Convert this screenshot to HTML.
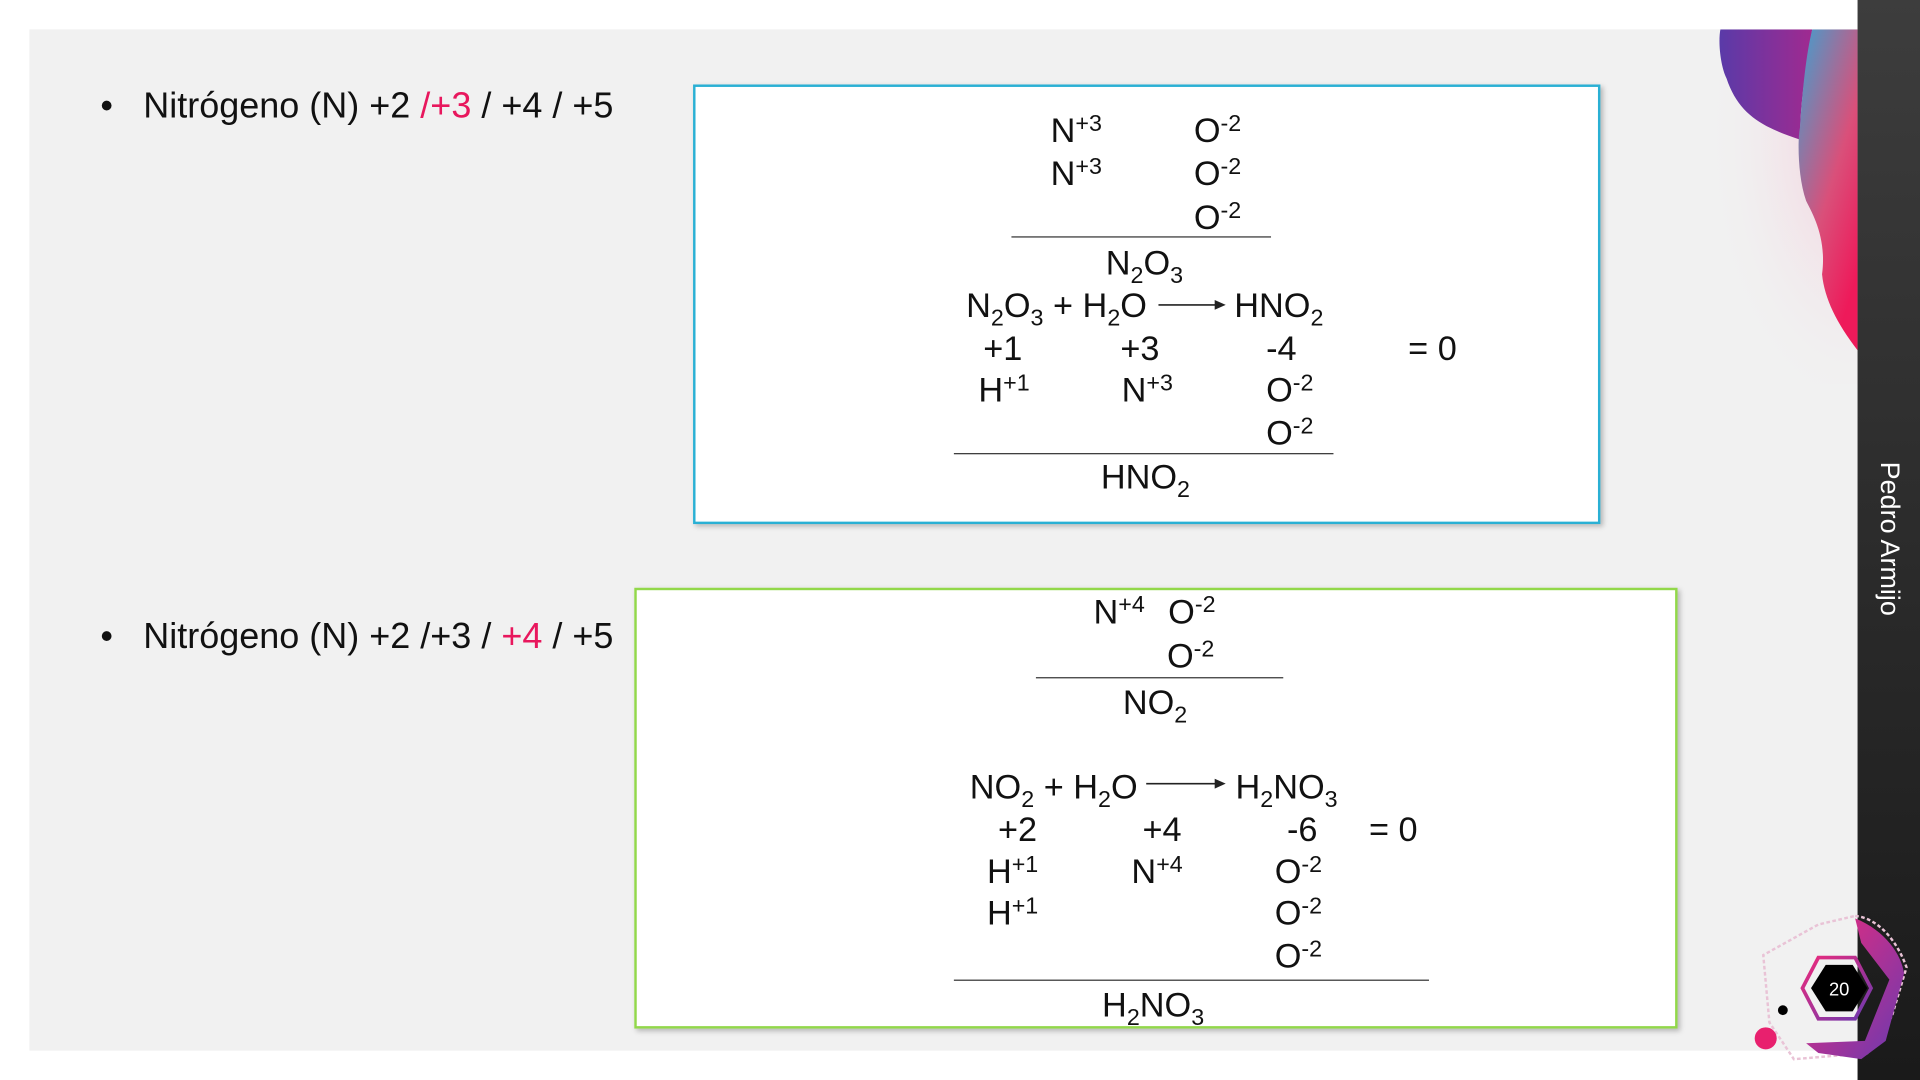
<!DOCTYPE html>
<html><head><meta charset="utf-8"><style>
html,body{margin:0;padding:0;width:1920px;height:1080px;overflow:hidden;background:#fff}
#s{position:absolute;left:0;top:0;width:1568px;height:882px;transform:scale(1.22449);transform-origin:0 0;font-family:"Liberation Sans",Arial,sans-serif;color:#111}
.t{position:absolute;font-size:28px;line-height:28px;white-space:nowrap}
.b{font-size:29.4px}
sup{font-size:19px;vertical-align:0;position:relative;top:-9px}
sub{font-size:19px;vertical-align:0;position:relative;top:7px}
.hl{position:absolute;height:1px;background:#333}
.box{position:absolute;background:#fff;box-shadow:2px 2px 4px rgba(0,0,0,.25)}
.r{color:#e8175d}
</style></head><body><div id="s">
<div style="position:absolute;left:24px;top:24px;width:1493px;height:834px;background:#f1f1f1"></div>
<svg style="position:absolute;left:1360px;top:24px" width="157" height="290" viewBox="0 0 157 290">
<defs>
<radialGradient id="g0" cx="1" cy="0.3" r="0.8"><stop offset="0" stop-color="#f3c8d8"/><stop offset="1" stop-color="#f1f1f1" stop-opacity="0"/></radialGradient>
<linearGradient id="g1" x1="0" x2="1"><stop offset="0" stop-color="#5a3aa8"/><stop offset="1" stop-color="#a02a90"/></linearGradient>
<linearGradient id="g2" x1="0" y1="0" x2="0.6" y2="1"><stop offset="0" stop-color="#3fa0d0"/><stop offset="0.6" stop-color="#d9507a"/><stop offset="1" stop-color="#ee1a5a"/></linearGradient>
</defs>
<rect x="0" y="0" width="157" height="290" fill="url(#g0)"/>
<path d="M45 0 L120 0 C115 30 110 60 110 90 C80 80 60 70 50 40 C45 30 43 10 45 0Z" fill="url(#g1)"/>
<path d="M120 0 L157 0 L157 262 C140 240 130 220 128 200 C132 170 120 150 115 140 C108 120 108 90 110 80 C112 50 115 20 120 0Z" fill="url(#g2)"/>
</svg>
<div style="position:absolute;left:1517px;top:0;width:51px;height:882px;background:linear-gradient(#3d3d3d,#1a1a1a)"></div>
<div style="position:absolute;left:1543px;top:440px;transform:translate(-50%,-50%) rotate(90deg);color:#fff;font-size:22px;white-space:nowrap">Pedro Armijo</div>
<svg style="position:absolute;left:1425px;top:740px" width="143" height="142" viewBox="0 0 143 142">
<defs><linearGradient id="g3" x1="0" y1="0" x2="1" y2="1"><stop offset="0" stop-color="#ee2a7b"/><stop offset="1" stop-color="#6a3ab0"/></linearGradient></defs>
<path d="M90 8 C110 10 125 30 132 50 L120 90 L100 120 L40 125 L20 95 L15 40 L60 15Z" fill="none" stroke="#e9c3d6" stroke-width="2" stroke-dasharray="3 2"/>
<path d="M90 10 C115 20 128 40 130 55 L115 110 L95 125 L60 120 L50 112 L98 110 L118 60 L95 30Z" fill="url(#g3)"/>
<polygon points="60,42 90,42 103,67 90,92 60,92 47,67" fill="none" stroke="url(#g3)" stroke-width="3"/>
<polygon points="66,48 88,48 100,67 88,86 66,86 54,67" fill="#000"/>
<text x="77" y="73" fill="#fff" font-size="15" text-anchor="middle" font-family="Liberation Sans,sans-serif">20</text>
<circle cx="31" cy="85" r="4" fill="#000"/>
<circle cx="17" cy="108" r="9" fill="#e8206e"/>
</svg>

<div class="t b" style="left:82px;top:73px">•</div>
<div class="t b" style="left:117px;top:73px">Nitrógeno (N) +2 <span class="r">/+3</span> / +4 / +5</div>
<div class="t b" style="left:82px;top:506px">•</div>
<div class="t b" style="left:117px;top:506px">Nitrógeno (N) +2 /+3 / <span class="r">+4</span> / +5</div>

<div class="box" style="left:566px;top:69px;width:737px;height:355px;border:2px solid #2ab0d4"></div>
<div class="t" style="left:858px;top:93px">N<sup>+3</sup></div>
<div class="t" style="left:975px;top:93px">O<sup>-2</sup></div>
<div class="t" style="left:858px;top:128px">N<sup>+3</sup></div>
<div class="t" style="left:975px;top:128px">O<sup>-2</sup></div>
<div class="t" style="left:975px;top:164px">O<sup>-2</sup></div>
<div class="hl" style="left:826px;top:193px;width:212px"></div>
<div class="t" style="left:903px;top:201px">N<sub>2</sub>O<sub>3</sub></div>
<div class="t" style="left:789px;top:236px">N<sub>2</sub>O<sub>3</sub> + H<sub>2</sub>O</div>
<svg style="position:absolute;left:946px;top:243px" width="58" height="12"><line x1="0" y1="6" x2="48" y2="6" stroke="#222" stroke-width="1.3"/><polygon points="46,2 55,6 46,10" fill="#222"/></svg>
<div class="t" style="left:1008px;top:236px">HNO<sub>2</sub></div>
<div class="t" style="left:803px;top:271px">+1</div>
<div class="t" style="left:915px;top:271px">+3</div>
<div class="t" style="left:1034px;top:271px">-4</div>
<div class="t" style="left:1150px;top:271px">= 0</div>
<div class="t" style="left:799px;top:305px">H<sup>+1</sup></div>
<div class="t" style="left:916px;top:305px">N<sup>+3</sup></div>
<div class="t" style="left:1034px;top:305px">O<sup>-2</sup></div>
<div class="t" style="left:1034px;top:340px">O<sup>-2</sup></div>
<div class="hl" style="left:779px;top:370px;width:310px"></div>
<div class="t" style="left:899px;top:376px">HNO<sub>2</sub></div>

<div class="box" style="left:518px;top:480px;width:848px;height:356px;border:2px solid #92d84a"></div>
<div class="t" style="left:893px;top:486px">N<sup>+4</sup></div>
<div class="t" style="left:954px;top:486px">O<sup>-2</sup></div>
<div class="t" style="left:953px;top:522px">O<sup>-2</sup></div>
<div class="hl" style="left:846px;top:553px;width:202px"></div>
<div class="t" style="left:917px;top:560px">NO<sub>2</sub></div>
<div class="t" style="left:792px;top:629px">NO<sub>2</sub> + H<sub>2</sub>O</div>
<svg style="position:absolute;left:936px;top:634px" width="68" height="12"><line x1="0" y1="6" x2="58" y2="6" stroke="#222" stroke-width="1.3"/><polygon points="56,2 65,6 56,10" fill="#222"/></svg>
<div class="t" style="left:1009px;top:629px">H<sub>2</sub>NO<sub>3</sub></div>
<div class="t" style="left:815px;top:664px">+2</div>
<div class="t" style="left:933px;top:664px">+4</div>
<div class="t" style="left:1051px;top:664px">-6</div>
<div class="t" style="left:1118px;top:664px">= 0</div>
<div class="t" style="left:806px;top:698px">H<sup>+1</sup></div>
<div class="t" style="left:924px;top:698px">N<sup>+4</sup></div>
<div class="t" style="left:1041px;top:698px">O<sup>-2</sup></div>
<div class="t" style="left:806px;top:732px">H<sup>+1</sup></div>
<div class="t" style="left:1041px;top:732px">O<sup>-2</sup></div>
<div class="t" style="left:1041px;top:767px">O<sup>-2</sup></div>
<div class="hl" style="left:779px;top:800px;width:388px"></div>
<div class="t" style="left:900px;top:807px">H<sub>2</sub>NO<sub>3</sub></div>
</div></body></html>
